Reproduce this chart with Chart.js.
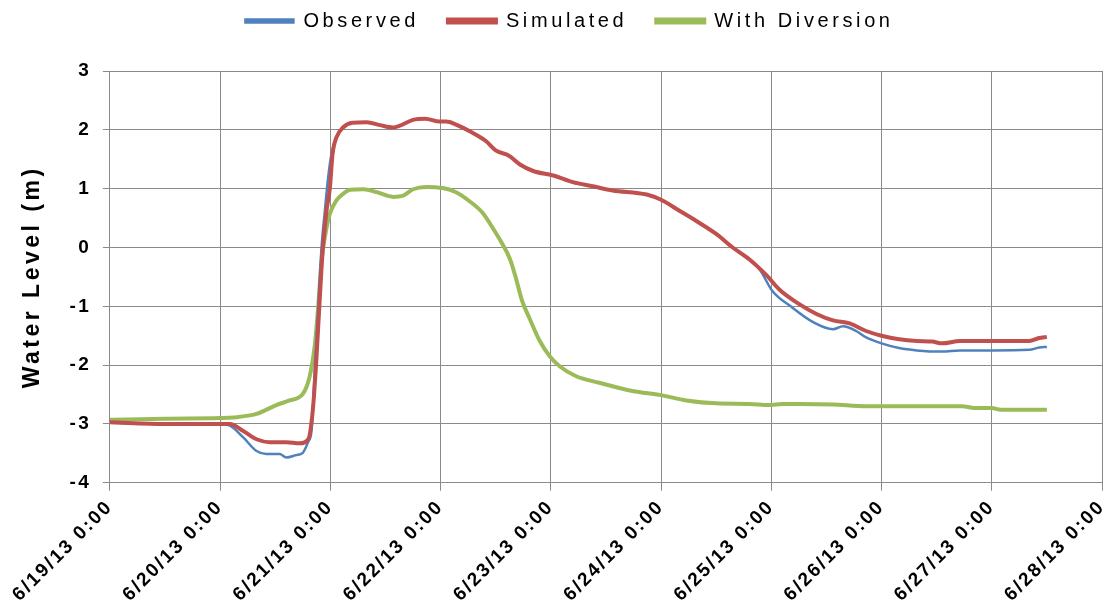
<!DOCTYPE html>
<html lang="en">
  <head>
    <meta charset="UTF-8" />
    <title>Water Level</title>
    <script src="https://cdn.jsdelivr.net/npm/chart.js"></script>
    <style>
      body { margin: 0; background: #fff; }
      .wrap { width: 1108px; height: 611px; position: relative; }
    </style>
  </head>
  <body>
    <div class="wrap"><canvas id="levelChart"></canvas></div>
  </body>
  <script>
    // x values are days since 6/19/13 0:00
    const dateLabels = [
      "6/19/13 0:00", "6/20/13 0:00", "6/21/13 0:00", "6/22/13 0:00", "6/23/13 0:00",
      "6/24/13 0:00", "6/25/13 0:00", "6/26/13 0:00", "6/27/13 0:00", "6/28/13 0:00",
    ];
    const levelTicks = [-4, -3, -2, -1, 0, 1, 2, 3];

    const obsDays = [0, 0.5, 1.0, 1.09, 1.21, 1.33, 1.42, 1.54, 1.6, 1.69, 1.75, 1.8, 1.83, 1.86, 1.89, 1.92, 1.95, 1.98, 2.01, 2.055, 2.115, 2.2, 2.33, 2.45, 2.57, 2.63, 2.75, 2.86, 2.99, 3.05, 3.14, 3.29, 3.41, 3.5, 3.62, 3.72, 3.84, 4.03, 4.2, 4.38, 4.56, 4.87, 5.0, 5.17, 5.32, 5.5, 5.65, 5.8, 5.89, 6.01, 6.19, 6.38, 6.56, 6.65, 6.77, 6.86, 7.0, 7.16, 7.32, 7.55, 7.71, 8.0, 8.34, 8.43, 8.5];
    const obsLevel = [-2.98, -3.0, -3.0, -3.03, -3.23, -3.46, -3.51, -3.51, -3.57, -3.53, -3.49, -3.3, -3.1, -2.0, -1.0, 0, 0.62, 1.19, 1.59, 1.87, 2.04, 2.12, 2.13, 2.08, 2.04, 2.07, 2.17, 2.19, 2.14, 2.14, 2.09, 1.95, 1.81, 1.65, 1.56, 1.41, 1.3, 1.22, 1.11, 1.04, 0.97, 0.9, 0.81, 0.62, 0.45, 0.23, 0, -0.21, -0.36, -0.74, -1.02, -1.27, -1.39, -1.34, -1.42, -1.53, -1.63, -1.71, -1.75, -1.77, -1.75, -1.75, -1.74, -1.7, -1.69];

    const simDays = [0, 0.5, 1.0, 1.09, 1.21, 1.33, 1.45, 1.6, 1.72, 1.8, 1.84, 1.87, 1.9, 1.93, 1.965, 1.995, 2.02, 2.055, 2.115, 2.2, 2.33, 2.45, 2.57, 2.63, 2.75, 2.86, 2.99, 3.05, 3.14, 3.29, 3.41, 3.5, 3.62, 3.72, 3.84, 4.03, 4.2, 4.38, 4.56, 4.87, 5.0, 5.17, 5.32, 5.5, 5.65, 5.8, 5.96, 6.07, 6.25, 6.41, 6.56, 6.71, 6.86, 7.0, 7.16, 7.32, 7.46, 7.55, 7.71, 8.0, 8.34, 8.43, 8.5];
    const simLevel = [-2.97, -3.0, -3.0, -3.0, -3.12, -3.26, -3.31, -3.31, -3.33, -3.26, -2.78, -2.0, -1.0, -0.06, 0.62, 1.0, 1.59, 1.87, 2.04, 2.12, 2.13, 2.08, 2.04, 2.07, 2.17, 2.19, 2.14, 2.14, 2.09, 1.95, 1.81, 1.65, 1.56, 1.41, 1.3, 1.22, 1.11, 1.04, 0.97, 0.9, 0.81, 0.62, 0.45, 0.23, 0, -0.2, -0.48, -0.71, -0.96, -1.13, -1.24, -1.29, -1.42, -1.5, -1.56, -1.59, -1.6, -1.63, -1.59, -1.59, -1.59, -1.54, -1.52];

    const divDays = [0, 0.5, 1.0, 1.12, 1.33, 1.51, 1.63, 1.75, 1.81, 1.86, 1.89, 1.92, 1.95, 1.995, 2.055, 2.115, 2.18, 2.3, 2.42, 2.57, 2.66, 2.75, 2.87, 3.02, 3.14, 3.26, 3.38, 3.5, 3.56, 3.63, 3.68, 3.74, 3.81, 3.9, 3.99, 4.08, 4.23, 4.44, 4.74, 5.0, 5.23, 5.5, 5.8, 5.98, 6.1, 6.26, 6.56, 6.86, 7.16, 7.73, 7.86, 8.0, 8.08, 8.5];
    const divLevel = [-2.93, -2.91, -2.9, -2.89, -2.83, -2.68, -2.6, -2.49, -2.21, -1.64, -1.0, -0.23, 0.17, 0.57, 0.8, 0.91, 0.98, 0.99, 0.94, 0.86, 0.88, 0.99, 1.03, 1.01, 0.94, 0.79, 0.59, 0.25, 0.06, -0.2, -0.5, -0.91, -1.22, -1.59, -1.85, -2.02, -2.19, -2.3, -2.44, -2.51, -2.6, -2.65, -2.66, -2.68, -2.66, -2.66, -2.67, -2.7, -2.7, -2.7, -2.73, -2.73, -2.76, -2.76];

    const toPoints = (xs, ys) => xs.map((x, i) => ({ x: x, y: ys[i] }));

    // wider letter spacing like the excel picture
    const withSpacing = (ctx, px, fn) => {
      ctx.save();
      ctx.letterSpacing = px;
      const r = fn();
      ctx.restore();
      return r;
    };

    const spacing = {
      id: "spacing",
      beforeInit(c) {
        // legend: its own spacing, a small nudge right, extra room under it
        const lg = c.legend;
        const fit = lg.fit;
        const draw = lg.draw;
        lg.fit = function () {
          withSpacing(c.ctx, "3.6px", () => fit.call(this));
          this.height += 30;
        };
        lg.draw = function () {
          withSpacing(c.ctx, "3.6px", () => {
            c.ctx.translate(9, 0);
            draw.call(this);
          });
        };
      },
      beforeUpdate(c) { c.ctx.letterSpacing = "2.2px"; },
      beforeLayout(c) { c.ctx.letterSpacing = "2.2px"; },
      beforeDraw(c) {
        c.ctx.letterSpacing = "2.2px";
        const y = c.scales.y;
        if (y && !y._titleWrapped) {
          const dt = y.drawTitle;
          y.drawTitle = function () {
            withSpacing(c.ctx, "3.5px", () => dt.call(this));
          };
          y._titleWrapped = true;
        }
      },
    };

    const gridColor = "#8a8a8a";
    const font = "Arial, 'Liberation Sans', sans-serif";

    const ctx = document.getElementById("levelChart").getContext("2d");
    const chart = new Chart(ctx, {
      type: "line",
      data: {
        datasets: [
          {
            label: "Observed",
            data: toPoints(obsDays, obsLevel),
            borderColor: "#4f81bd",
            backgroundColor: "#4f81bd",
            borderWidth: 2.5,
            order: 1,
          },
          {
            label: "Simulated",
            data: toPoints(simDays, simLevel),
            borderColor: "#c0504d",
            backgroundColor: "#c0504d",
            borderWidth: 4,
            order: 0,
          },
          {
            label: "With Diversion",
            data: toPoints(divDays, divLevel),
            borderColor: "#9bbb59",
            backgroundColor: "#9bbb59",
            borderWidth: 4,
            order: 2,
          },
        ],
      },
      options: {
        responsive: true,
        maintainAspectRatio: false,
        animation: false,
        layout: { padding: { left: 19, right: 6, top: -18, bottom: 0 } },
        elements: {
          point: { radius: 0 },
          line: { cubicInterpolationMode: "monotone" },
        },
        plugins: {
          tooltip: { enabled: false },
          legend: {
            position: "top",
            labels: {
              boxWidth: 48,
              boxHeight: 3,
              padding: 29,
              color: "#000",
              font: { family: font, size: 20 },
              sort: (a, b) => a.datasetIndex - b.datasetIndex,
            },
          },
        },
        scales: {
          x: {
            type: "linear",
            min: 0,
            max: 9,
            grid: { color: gridColor, tickLength: 8, tickColor: gridColor },
            border: { color: gridColor },
            ticks: {
              stepSize: 1,
              autoSkip: false,
              maxRotation: 45,
              minRotation: 45,
              padding: 5,
              color: "#000",
              font: { family: font, size: 19, weight: "bold" },
              callback: (v) => dateLabels[v],
            },
            afterFit(s) {
              s.paddingLeft = 0;
              s.paddingRight = 0;
            },
          },
          y: {
            min: levelTicks[0],
            max: levelTicks[levelTicks.length - 1],
            grid: { color: gridColor, tickLength: 7, tickColor: gridColor },
            border: { color: gridColor },
            ticks: {
              stepSize: 1,
              padding: 12,
              color: "#000",
              font: { family: font, size: 19, weight: "bold" },
            },
            title: {
              display: true,
              text: "Water Level (m)",
              color: "#000",
              font: { family: font, size: 23, weight: "bold" },
              padding: { top: 0, bottom: 11 },
            },
          },
        },
      },
      plugins: [spacing],
    });
  </script>
</html>
